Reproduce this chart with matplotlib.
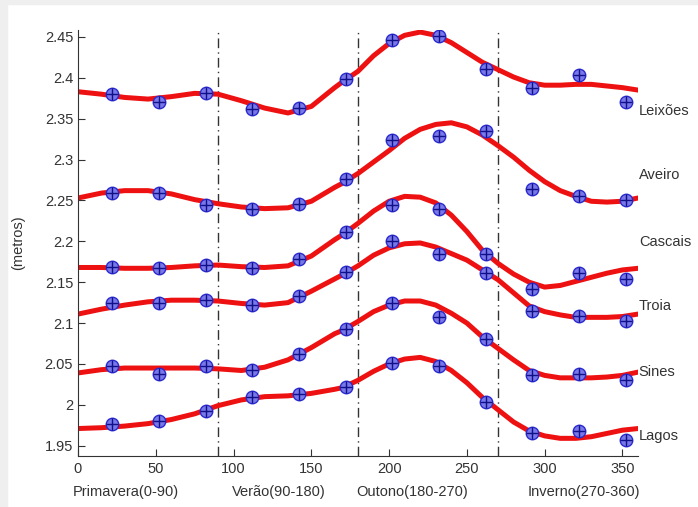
import numpy as np
import matplotlib
matplotlib.use("Agg")
import matplotlib.pyplot as plt
from matplotlib.patches import Rectangle

plt.rcParams['font.family'] = ['Liberation Sans', 'DejaVu Sans']

# days of year (day 0 = start of spring); curve read every 15 d, then every 10 d
curve_x = [0, 15, 30, 45, 60, 75, 90, 105, 120, 135, 150, 165,
           170, 180, 190, 200, 210, 220, 230, 240, 250, 260, 270, 280,
           290, 300, 310, 320, 330, 340, 350, 360]
obs_x = [22, 52, 82, 112, 142, 172, 202, 232, 262, 292, 322, 352]

stations = ['Leixões', 'Aveiro', 'Cascais', 'Troia', 'Sines', 'Lagos']

# fitted seasonal curves (metros)
leixoes_fit = [2.383, 2.380, 2.376, 2.374, 2.377, 2.381, 2.380, 2.372, 2.363, 2.357, 2.365, 2.388,
               2.395, 2.408, 2.427, 2.442, 2.452, 2.456, 2.452, 2.443, 2.431, 2.419, 2.410, 2.401,
               2.394, 2.391, 2.391, 2.392, 2.392, 2.390, 2.388, 2.385]
aveiro_fit = [2.253, 2.259, 2.262, 2.262, 2.258, 2.251, 2.246, 2.242, 2.240, 2.241, 2.249, 2.266,
              2.271, 2.283, 2.297, 2.311, 2.326, 2.337, 2.343, 2.345, 2.340, 2.330, 2.317, 2.303,
              2.287, 2.273, 2.262, 2.255, 2.249, 2.248, 2.249, 2.253]
cascais_fit = [2.168, 2.168, 2.167, 2.167, 2.168, 2.170, 2.171, 2.169, 2.168, 2.170, 2.182, 2.202,
               2.208, 2.222, 2.237, 2.249, 2.255, 2.254, 2.247, 2.232, 2.212, 2.189, 2.173, 2.160,
               2.150, 2.144, 2.146, 2.151, 2.156, 2.161, 2.165, 2.167]
troia_fit = [2.111, 2.117, 2.122, 2.126, 2.128, 2.128, 2.127, 2.124, 2.122, 2.125, 2.139, 2.154,
             2.159, 2.170, 2.183, 2.192, 2.197, 2.198, 2.193, 2.185, 2.177, 2.165, 2.153, 2.137,
             2.121, 2.114, 2.110, 2.107, 2.107, 2.107, 2.108, 2.111]
sines_fit = [2.039, 2.043, 2.045, 2.045, 2.045, 2.045, 2.044, 2.042, 2.046, 2.055, 2.070, 2.087,
             2.091, 2.102, 2.114, 2.122, 2.127, 2.127, 2.122, 2.112, 2.100, 2.083, 2.069, 2.055,
             2.042, 2.036, 2.033, 2.033, 2.033, 2.034, 2.036, 2.040]
lagos_fit = [1.971, 1.972, 1.974, 1.977, 1.982, 1.989, 1.999, 2.006, 2.010, 2.011, 2.014, 2.019,
             2.021, 2.030, 2.041, 2.050, 2.056, 2.058, 2.053, 2.042, 2.027, 2.009, 1.994, 1.979,
             1.968, 1.962, 1.959, 1.959, 1.961, 1.965, 1.969, 1.971]

# monthly means (metros)
leixoes_obs = [2.380, 2.370, 2.382, 2.362, 2.363, 2.399, 2.446, 2.451, 2.411, 2.388, 2.404, 2.370]
aveiro_obs = [2.259, 2.259, 2.245, 2.239, 2.246, 2.276, 2.324, 2.329, 2.335, 2.264, 2.255, 2.250]
cascais_obs = [2.168, 2.167, 2.171, 2.167, 2.178, 2.211, 2.244, 2.240, 2.185, 2.142, 2.161, 2.154]
troia_obs = [2.124, 2.124, 2.128, 2.122, 2.133, 2.162, 2.200, 2.184, 2.161, 2.115, 2.109, 2.103]
sines_obs = [2.048, 2.038, 2.047, 2.042, 2.062, 2.093, 2.124, 2.108, 2.080, 2.037, 2.038, 2.030]
lagos_obs = [1.977, 1.980, 1.992, 2.010, 2.013, 2.022, 2.051, 2.048, 2.004, 1.965, 1.968, 1.957]

fits = [leixoes_fit, aveiro_fit, cascais_fit, troia_fit, sines_fit, lagos_fit]
obs = [leixoes_obs, aveiro_obs, cascais_obs, troia_obs, sines_obs, lagos_obs]

season_bounds = [90, 180, 270]
seasons = ['Primavera(0-90)', 'Verão(90-180)', 'Outono(180-270)', 'Inverno(270-360)']

# layout only
label_y = [2.360, 2.281, 2.199, 2.121, 2.040, 1.962]
season_x = [31, 129, 215, 325]

fig = plt.figure(figsize=(6.98, 5.07), dpi=100)
# screenshot frame
fig.patches.append(Rectangle((0, 1 - 4 / 507), 1, 4 / 507, transform=fig.transFigure,
                             color='#efefef', zorder=0))
fig.patches.append(Rectangle((0, 0), 7 / 698, 1, transform=fig.transFigure,
                             color='#efefef', zorder=0))

ax = fig.add_axes([78 / 698, 51 / 507, 560 / 698, 426 / 507])

for b in season_bounds:
    ax.axvline(b, color='#333333', lw=1.0, ls=(0, (7, 3, 1, 3)), zorder=1)

for fy, oy in zip(fits, obs):
    ax.plot(curve_x, fy, color='#ee1111', lw=3.6, solid_capstyle='round',
            solid_joinstyle='round', zorder=2)
    ax.plot(obs_x, oy, 'o', ms=9, mfc='#7878e8', mec='#2a2ad0', mew=1.0, zorder=3)
    ax.plot(obs_x, oy, '+', ms=8, color='#10108a', mew=1.0, zorder=4)

for name, ly in zip(stations, label_y):
    ax.text(360.5, ly, name, fontsize=10.5, color='#333333', va='center', ha='left',
            clip_on=False)

for sx, s in zip(season_x, seasons):
    ax.text(sx, -0.085, s, transform=ax.get_xaxis_transform(), fontsize=10.5,
            color='#333333', ha='center', va='center')

ax.set_xlim(0, 360)
ax.set_ylim(1.9374, 2.4585)
ax.set_xticks(np.arange(0, 351, 50))
yt = np.round(np.arange(1.95, 2.451, 0.05), 2)
ax.set_yticks(yt)
ax.set_yticklabels(['%g' % v for v in yt])
ax.tick_params(direction='in', length=5, width=0.8, labelsize=10.5,
               labelcolor='#333333', color='#333333', top=False, right=False)
ax.tick_params(axis='x', pad=4)
for side in ['top', 'right']:
    ax.spines[side].set_visible(False)
for side in ['left', 'bottom']:
    ax.spines[side].set_color('#333333')
    ax.spines[side].set_linewidth(0.8)
ax.set_ylabel('(metros)', fontsize=10.5, color='#333333', labelpad=14)

fig.savefig('out.png', dpi=100, facecolor='white')
